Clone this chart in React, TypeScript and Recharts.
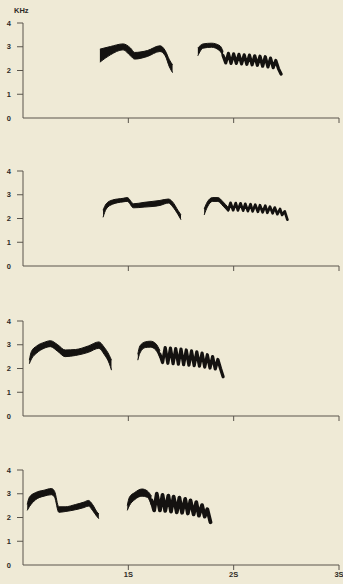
import React from 'react';
import { ComposedChart, Area, Line, XAxis, YAxis } from 'recharts';

// Axes
const freqTicks = [0, 1, 2, 3, 4];
const timeTicks = [1, 2, 3];
const timeLabels = ['1S', '2S', '3S'];
const unitLabel = 'KHz';

// Panel 1
const p1NoteT = [0.73, 0.83, 0.95, 1.02, 1.06, 1.18, 1.3, 1.35, 1.39, 1.42];
const p1NoteHi = [2.9, 3.01, 3.12, 2.95, 2.76, 2.84, 3.04, 2.84, 2.45, 2.24];
const p1NoteLo = [2.35, 2.66, 2.87, 2.62, 2.48, 2.59, 2.8, 2.62, 2.15, 1.91];
const p1ArchT = [1.66, 1.71, 1.79, 1.87, 1.9];
const p1ArchHi = [2.95, 3.12, 3.15, 3.04, 2.8];
const p1ArchLo = [2.62, 2.94, 2.98, 2.82, 2.55];
const p1TrillT = [1.9, 1.925, 1.95, 1.975, 2.0, 2.025, 2.05, 2.075, 2.1, 2.125, 2.15, 2.175, 2.2, 2.225, 2.25, 2.275, 2.3, 2.325, 2.35, 2.375, 2.4, 2.425, 2.45];
const p1TrillF = [2.62, 2.32, 2.72, 2.3, 2.7, 2.3, 2.68, 2.28, 2.66, 2.26, 2.65, 2.24, 2.62, 2.22, 2.6, 2.18, 2.58, 2.15, 2.52, 2.12, 2.42, 2.08, 1.85];

// Panel 2
const p2NoteT = [0.76, 0.79, 0.85, 0.95, 0.99, 1.05, 1.15, 1.3, 1.38, 1.42, 1.47, 1.5];
const p2NoteHi = [2.35, 2.62, 2.78, 2.85, 2.88, 2.62, 2.68, 2.76, 2.82, 2.7, 2.35, 2.15];
const p2NoteLo = [2.05, 2.4, 2.6, 2.7, 2.72, 2.45, 2.48, 2.55, 2.65, 2.5, 2.18, 1.95];
const p2ArchT = [1.72, 1.75, 1.8, 1.85, 1.9, 1.95];
const p2ArchHi = [2.4, 2.7, 2.88, 2.88, 2.7, 2.45];
const p2ArchLo = [2.15, 2.48, 2.72, 2.72, 2.52, 2.28];
const p2TrillT = [1.95, 1.97, 1.995, 2.02, 2.04, 2.065, 2.09, 2.11, 2.135, 2.16, 2.18, 2.205, 2.23, 2.25, 2.275, 2.3, 2.32, 2.345, 2.37, 2.39, 2.415, 2.44, 2.46, 2.485, 2.51];
const p2TrillF = [2.36, 2.66, 2.35, 2.65, 2.34, 2.64, 2.33, 2.62, 2.31, 2.6, 2.3, 2.58, 2.28, 2.56, 2.26, 2.54, 2.24, 2.5, 2.22, 2.46, 2.18, 2.4, 2.15, 2.3, 1.95];

// Panel 3
const p3NoteT = [0.06, 0.08, 0.13, 0.2, 0.26, 0.33, 0.4, 0.5, 0.62, 0.72, 0.77, 0.82, 0.84];
const p3NoteHi = [2.35, 2.72, 2.95, 3.1, 3.17, 3.0, 2.78, 2.8, 2.95, 3.12, 2.9, 2.55, 2.35];
const p3NoteLo = [2.2, 2.4, 2.65, 2.85, 2.92, 2.72, 2.5, 2.55, 2.68, 2.85, 2.6, 2.2, 1.93];
const p3ArchT = [1.09, 1.11, 1.16, 1.21, 1.26, 1.3];
const p3ArchHi = [2.6, 2.95, 3.12, 3.15, 3.05, 2.75];
const p3ArchLo = [2.35, 2.65, 2.88, 2.9, 2.78, 2.45];
const p3TrillT = [1.3, 1.325, 1.35, 1.375, 1.4, 1.425, 1.45, 1.475, 1.5, 1.525, 1.55, 1.575, 1.6, 1.625, 1.65, 1.675, 1.7, 1.725, 1.75, 1.775, 1.8, 1.825, 1.85, 1.875, 1.9];
const p3TrillF = [2.6, 2.25, 2.88, 2.22, 2.86, 2.2, 2.84, 2.18, 2.82, 2.16, 2.78, 2.14, 2.74, 2.12, 2.7, 2.1, 2.65, 2.06, 2.58, 2.02, 2.5, 1.98, 2.38, 2.0, 1.65];

// Panel 4
const p4NoteT = [0.04, 0.06, 0.12, 0.2, 0.27, 0.3, 0.34, 0.4, 0.5, 0.58, 0.62, 0.66, 0.7, 0.72];
const p4NoteHi = [2.55, 2.85, 3.05, 3.15, 3.22, 3.1, 2.45, 2.45, 2.55, 2.65, 2.72, 2.55, 2.25, 2.15];
const p4NoteLo = [2.3, 2.45, 2.75, 2.9, 2.96, 2.85, 2.22, 2.25, 2.33, 2.42, 2.48, 2.3, 2.05, 1.95];
const p4ArchT = [0.99, 1.01, 1.06, 1.13, 1.18, 1.22];
const p4ArchHi = [2.5, 2.85, 3.05, 3.2, 3.12, 2.9];
const p4ArchLo = [2.3, 2.5, 2.75, 2.9, 2.85, 2.5];
const p4TrillT = [1.22, 1.245, 1.27, 1.3, 1.325, 1.35, 1.38, 1.405, 1.43, 1.46, 1.485, 1.51, 1.54, 1.565, 1.59, 1.62, 1.645, 1.67, 1.7, 1.725, 1.75, 1.78];
const p4TrillF = [2.72, 2.3, 3.0, 2.3, 2.95, 2.28, 2.92, 2.25, 2.88, 2.22, 2.84, 2.2, 2.78, 2.17, 2.72, 2.13, 2.65, 2.08, 2.52, 2.04, 2.35, 1.8];

const BG = '#efead6';
const INK = '#141210';
const AXIS = '#5a554c';
const TXT = '#2e2b26';
const FONT = '"Liberation Sans", Arial, sans-serif';

type Row = { t: number; note?: number[]; arch?: number[]; trill?: number };

function buildRows(
  noteT: number[], noteHi: number[], noteLo: number[],
  archT: number[], archHi: number[], archLo: number[],
  trillT: number[], trillF: number[]
): Row[] {
  const map = new Map<string, Row>();
  const get = (t: number) => {
    const k = t.toFixed(3);
    if (!map.has(k)) map.set(k, { t });
    return map.get(k) as Row;
  };
  noteT.forEach((t, i) => { get(t).note = [noteLo[i], noteHi[i]]; });
  archT.forEach((t, i) => { get(t).arch = [archLo[i], archHi[i]]; });
  trillT.forEach((t, i) => { get(t).trill = trillF[i]; });
  return Array.from(map.values()).sort((a, b) => a.t - b.t);
}

const panels = [
  { rows: buildRows(p1NoteT, p1NoteHi, p1NoteLo, p1ArchT, p1ArchHi, p1ArchLo, p1TrillT, p1TrillF), top: 0, labels: false, trillW: 3.2 },
  { rows: buildRows(p2NoteT, p2NoteHi, p2NoteLo, p2ArchT, p2ArchHi, p2ArchLo, p2TrillT, p2TrillF), top: 148, labels: false, trillW: 2.7 },
  { rows: buildRows(p3NoteT, p3NoteHi, p3NoteLo, p3ArchT, p3ArchHi, p3ArchLo, p3TrillT, p3TrillF), top: 298, labels: false, trillW: 3.2 },
  { rows: buildRows(p4NoteT, p4NoteHi, p4NoteLo, p4ArchT, p4ArchHi, p4ArchLo, p4TrillT, p4TrillF), top: 447, labels: true, trillW: 3.8 },
];

const AXIS_X = 23;

const YTick = (props: any) => {
  const { y, payload } = props;
  return (
    <g>
      {payload.value !== 0 && (
        <line x1={AXIS_X - 6} x2={AXIS_X} y1={y} y2={y} stroke={AXIS} strokeWidth={1} />
      )}
      <text x={10.8} y={y} dy={2.6} textAnchor="end" fontSize={7.5} fontWeight={700} fill={TXT} fontFamily={FONT}>
        {payload.value}
      </text>
    </g>
  );
};

function Panel({ rows, top, labels, trillW }: { rows: Row[]; top: number; labels: boolean; trillW: number }) {
  return (
    <div style={{ position: 'absolute', left: 0, top }}>
      <ComposedChart width={343} height={140} data={rows} margin={{ top: 23, right: 4, bottom: 0, left: 0 }}>
        <XAxis
          dataKey="t"
          type="number"
          domain={[0, 3]}
          ticks={timeTicks}
          interval={0}
          height={22}
          axisLine={{ stroke: AXIS, strokeWidth: 1 }}
          tickLine={{ stroke: AXIS, strokeWidth: 1 }}
          tickSize={5}
          tickMargin={2}
          tick={{ fontSize: 7.5, fontWeight: 700, fill: TXT, fontFamily: FONT }}
          tickFormatter={(v: number) => (labels ? timeLabels[timeTicks.indexOf(v)] : '')}
          allowDataOverflow
        />
        <YAxis
          type="number"
          domain={[0, 4]}
          ticks={freqTicks}
          interval={0}
          width={AXIS_X}
          axisLine={{ stroke: AXIS, strokeWidth: 1 }}
          tickLine={false}
          tick={(p: any) => <YTick {...p} />}
        />
        <Area dataKey="note" type="monotone" stroke={INK} strokeWidth={1} fill={INK} fillOpacity={1} connectNulls={false} dot={false} activeDot={false} isAnimationActive={false} />
        <Area dataKey="arch" type="monotone" stroke={INK} strokeWidth={1} fill={INK} fillOpacity={1} connectNulls={false} dot={false} activeDot={false} isAnimationActive={false} />
        <Line dataKey="trill" type="linear" stroke={INK} strokeWidth={trillW} strokeLinejoin="round" strokeLinecap="round" connectNulls={false} dot={false} activeDot={false} isAnimationActive={false} />
      </ComposedChart>
    </div>
  );
}

export default function App() {
  return (
    <div style={{ position: 'absolute', left: 0, top: 0, width: 343, height: 584, background: BG, overflow: 'hidden' }}>
      <div style={{ position: 'absolute', left: 14, top: 6, fontFamily: FONT, fontSize: 7.5, fontWeight: 700, color: TXT, lineHeight: '9px' }}>
        {unitLabel}
      </div>
      {panels.map((p, i) => (
        <Panel key={i} rows={p.rows} top={p.top} labels={p.labels} trillW={p.trillW} />
      ))}
    </div>
  );
}
